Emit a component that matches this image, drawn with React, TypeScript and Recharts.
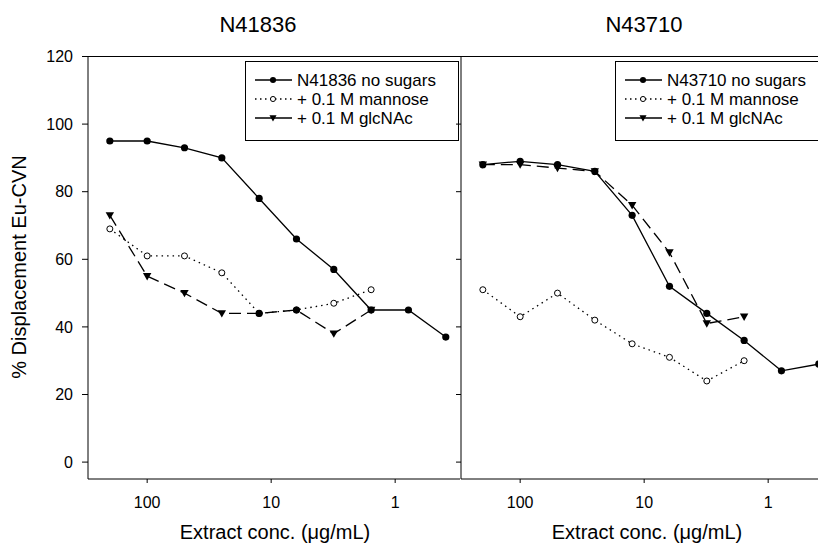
import { LineChart, Line, XAxis, YAxis, ReferenceLine, Legend } from "recharts";

// x positions: twofold dilution series (ug/mL)
const conc = [200, 100, 50, 25, 12.5, 6.25, 3.125, 1.5625, 0.78125, 0.390625];

const leftNoSugars = [95, 95, 93, 90, 78, 66, 57, 45, 45, 37];
const leftMannose = [69, 61, 61, 56, 44, 45, 47, 51];
const leftGlcNAc = [73, 55, 50, 44, 44, 45, 38, 45];

const rightNoSugars = [88, 89, 88, 86, 73, 52, 44, 36, 27, 29];
const rightMannose = [51, 43, 50, 42, 35, 31, 24, 30];
const rightGlcNAc = [88, 88, 87, 86, 76, 62, 41, 43];

const xTicks = [100, 10, 1];
const yTicks = [0, 20, 40, 60, 80, 100, 120];

const FONT = "'Liberation Sans', Arial, sans-serif";

const toRows = (vals: number[]) => vals.map((y, i) => ({ x: conc[i], y }));

type Marker = "filled" | "open" | "tri";

function drawMarker(kind: Marker, cx: number, cy: number, key?: string | number, s = 1) {
  if (kind === "filled") return <circle key={key} cx={cx} cy={cy} r={3.6 * s} fill="#000" />;
  if (kind === "open")
    return <circle key={key} cx={cx} cy={cy} r={3 * s} fill="#fff" stroke="#000" strokeWidth={1} />;
  return (
    <polygon
      key={key}
      points={`${cx - 4.2 * s},${cy - 3.2 * s} ${cx + 4.2 * s},${cy - 3.2 * s} ${cx},${cy + 4.2 * s}`}
      fill="#000"
    />
  );
}

// left panel glcNAc shows filled circles at 12.5 and 6.25
const dotFor = (kind: Marker, filledAt: number[] = []) => (p: any) =>
  drawMarker(filledAt.includes(p.index) ? "filled" : kind, p.cx, p.cy, `d-${p.index}`);

const legendRows = [
  { key: "none", dash: undefined, marker: "filled" as Marker },
  { key: "man", dash: "1.5 3.5", marker: "open" as Marker },
  { key: "glc", dash: undefined, marker: "tri" as Marker },
];

function LegendBox({ first }: { first: string }) {
  const labels = [first, "+ 0.1 M mannose", "+ 0.1 M glcNAc"];
  return (
    <svg width={214} height={80} style={{ display: "block" }}>
      <rect x={0.5} y={0.5} width={213} height={79} fill="#fff" stroke="#000" strokeWidth={1} />
      {legendRows.map((s, i) => {
        const y = 19 + i * 19;
        return (
          <g key={s.key}>
            <line x1={10} x2={47} y1={y} y2={y} stroke="#000" strokeWidth={1.3} strokeDasharray={s.dash} />
            {drawMarker(s.marker, 28, y, undefined, 0.85)}
            <text x={52} y={y} dominantBaseline="central" fontSize={17} fontFamily={FONT} fill="#000">
              {labels[i]}
            </text>
          </g>
        );
      })}
    </svg>
  );
}

const tickStyle = { fontSize: 16, fontFamily: FONT, fill: "#000" };

function Panel({
  width,
  yLeft,
  none,
  man,
  glc,
  legendFirst,
  legendLeft,
  glcFilled,
}: {
  width: number;
  yLeft: boolean;
  none: number[];
  man: number[];
  glc: number[];
  legendFirst: string;
  legendLeft: number;
  glcFilled: number[];
}) {
  return (
    <LineChart
      width={width}
      height={535}
      margin={{ top: 48.5, right: 0, bottom: 0, left: yLeft ? 20 : 1 }}
    >
      <XAxis
        dataKey="x"
        type="number"
        scale="log"
        domain={[0.3, 300]}
        allowDataOverflow
        reversed
        ticks={xTicks}
        tickFormatter={(v) => String(v)}
        height={64}
        tickSize={4}
        tickMargin={14}
        tick={tickStyle}
        stroke="#000"
        interval={0}
      />
      <YAxis
        type="number"
        domain={[-5, 120]}
        ticks={yTicks}
        allowDataOverflow
        width={yLeft ? 60 : 10}
        tickSize={yLeft ? 6 : 5}
        tickMargin={9}
        tick={tickStyle}
        tickFormatter={yLeft ? (v) => String(v) : () => ""}
        stroke="#000"
        interval={0}
      />
      <ReferenceLine y={120} stroke="#000" strokeWidth={1} />
      <Legend
        layout="vertical"
        align="center"
        verticalAlign="middle"
        wrapperStyle={{ left: legendLeft, top: 53, width: 214, height: 80 }}
        content={() => <LegendBox first={legendFirst} />}
      />
      <Line
        data={toRows(man)}
        dataKey="y"
        stroke="#000"
        strokeWidth={1.3}
        strokeDasharray="1.5 4"
        dot={dotFor("open")}
        activeDot={false}
        isAnimationActive={false}
      />
      <Line
        data={toRows(glc)}
        dataKey="y"
        stroke="#000"
        strokeWidth={1.3}
        strokeDasharray="12 6"
        dot={dotFor("tri", glcFilled)}
        activeDot={false}
        isAnimationActive={false}
      />
      <Line
        data={toRows(none)}
        dataKey="y"
        stroke="#000"
        strokeWidth={1.3}
        dot={dotFor("filled")}
        activeDot={false}
        isAnimationActive={false}
      />
    </LineChart>
  );
}

const abs = (extra: React.CSSProperties): React.CSSProperties => ({
  position: "absolute",
  fontFamily: FONT,
  color: "#000",
  whiteSpace: "nowrap",
  textAlign: "center",
  ...extra,
});

export default function App() {
  return (
    <div style={{ position: "relative", width: 818, height: 535, overflow: "hidden", background: "#fff" }}>
      <div style={{ position: "absolute", left: 0, top: 0 }}>
        <Panel
          width={452}
          yLeft
          none={leftNoSugars}
          man={leftMannose}
          glc={leftGlcNAc}
          legendFirst="N41836 no sugars"
          legendLeft={237}
          glcFilled={[4, 5]}
        />
      </div>
      <div style={{ position: "absolute", left: 442, top: 0 }}>
        <Panel
          width={383}
          yLeft={false}
          none={rightNoSugars}
          man={rightMannose}
          glc={rightGlcNAc}
          legendFirst="N43710 no sugars"
          legendLeft={165}
          glcFilled={[]}
        />
      </div>
      <div style={abs({ left: 150, top: 4, width: 200, fontSize: 22, lineHeight: "26px" })}>N41836</div>
      <div style={abs({ left: 536, top: 4, width: 200, fontSize: 22, lineHeight: "26px" })}>N43710</div>
      <div style={abs({ left: 117, top: 512, width: 300, fontSize: 20, lineHeight: "24px" })}>
        Extract conc. (μg/mL)
      </div>
      <div style={abs({ left: 489, top: 512, width: 300, fontSize: 20, lineHeight: "24px" })}>
        Extract conc. (μg/mL)
      </div>
      <div
        style={abs({
          left: 11 - 150,
          top: 259 - 12,
          width: 300,
          fontSize: 20,
          lineHeight: "24px",
          transform: "rotate(-90deg)",
        })}
      >
        % Displacement Eu-CVN
      </div>
    </div>
  );
}
